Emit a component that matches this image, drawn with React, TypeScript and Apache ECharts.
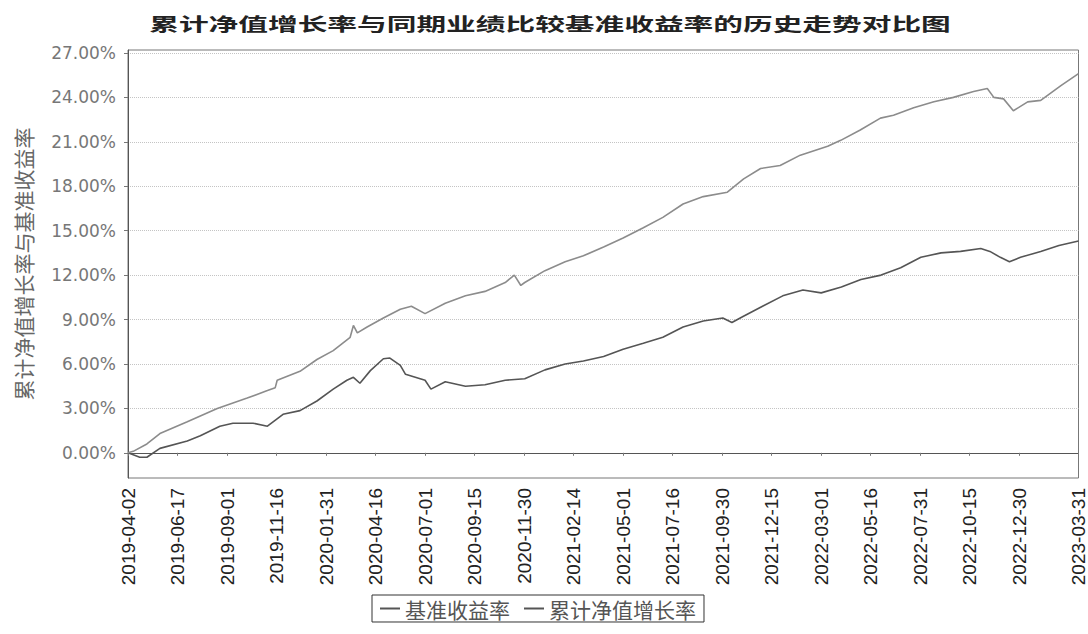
import { useEffect, useRef } from 'react';
import * as echarts from 'echarts';

const TITLE = '累计净值增长率与同期业绩比较基准收益率的历史走势对比图';
const Y_NAME = '累计净值增长率与基准收益率';
const BENCH_NAME = '基准收益率';
const FUND_NAME = '累计净值增长率';

const X_START = '2019-04-02';
const X_END = '2023-03-31';
const X_LABEL_DATES = [
  '2019-04-02', '2019-06-17', '2019-09-01', '2019-11-16', '2020-01-31',
  '2020-04-16', '2020-07-01', '2020-09-15', '2020-11-30', '2021-02-14',
  '2021-05-01', '2021-07-16', '2021-09-30', '2021-12-15', '2022-03-01',
  '2022-05-16', '2022-07-31', '2022-10-15', '2022-12-30', '2023-03-31',
];
const Y_TICKS = [0, 3, 6, 9, 12, 15, 18, 21, 24, 27];
const Y_MIN = -1.7;
const Y_MAX = 27.2;

// upper line
const fundDates = [
  '2019-04-02', '2019-04-10', '2019-05-01', '2019-05-21', '2019-07-02', '2019-08-17',
  '2019-10-02', '2019-11-02', '2019-11-14', '2019-11-17', '2019-12-22', '2020-01-17',
  '2020-02-11', '2020-03-08', '2020-03-13', '2020-03-19', '2020-04-03', '2020-04-28',
  '2020-05-24', '2020-06-10', '2020-07-01', '2020-08-01', '2020-09-01', '2020-10-01',
  '2020-11-01', '2020-11-15', '2020-11-25', '2020-12-01', '2021-01-01', '2021-02-01',
  '2021-03-01', '2021-04-01', '2021-05-01', '2021-06-01', '2021-07-01', '2021-08-01',
  '2021-09-01', '2021-10-08', '2021-11-02', '2021-11-28', '2021-12-28', '2022-01-28',
  '2022-03-11', '2022-03-31', '2022-04-30', '2022-05-31', '2022-06-20', '2022-07-21',
  '2022-08-21', '2022-09-20', '2022-10-21', '2022-11-11', '2022-11-21', '2022-12-06',
  '2022-12-21', '2023-01-12', '2023-02-01', '2023-03-04', '2023-03-31',
];
const fundValues = [
  0.0, 0.1, 0.6, 1.3, 2.1, 3.0,
  3.7, 4.2, 4.4, 4.9, 5.5, 6.3,
  6.9, 7.8, 8.6, 8.1, 8.5, 9.1,
  9.7, 9.9, 9.4, 10.1, 10.6, 10.9,
  11.5, 12.0, 11.3, 11.5, 12.3, 12.9,
  13.3, 13.9, 14.5, 15.2, 15.9, 16.8,
  17.3, 17.6, 18.5, 19.2, 19.4, 20.1,
  20.7, 21.1, 21.8, 22.6, 22.8, 23.3,
  23.7, 24.0, 24.4, 24.6, 24.0, 23.9,
  23.1, 23.7, 23.8, 24.8, 25.6,
];

// lower line
const benchDates = [
  '2019-04-02', '2019-04-20', '2019-05-01', '2019-05-21', '2019-07-02', '2019-07-22',
  '2019-08-21', '2019-09-10', '2019-10-11', '2019-11-02', '2019-11-26', '2019-12-22',
  '2020-01-17', '2020-02-11', '2020-03-03', '2020-03-13', '2020-03-23', '2020-04-08',
  '2020-04-28', '2020-05-08', '2020-05-24', '2020-06-01', '2020-07-01', '2020-07-10',
  '2020-08-01', '2020-09-01', '2020-10-01', '2020-11-01', '2020-12-01', '2021-01-01',
  '2021-02-01', '2021-03-01', '2021-04-01', '2021-05-01', '2021-06-01', '2021-07-01',
  '2021-08-01', '2021-09-01', '2021-10-01', '2021-10-15', '2021-11-01', '2021-12-01',
  '2022-01-01', '2022-02-01', '2022-03-01', '2022-04-01', '2022-05-01', '2022-06-01',
  '2022-07-01', '2022-08-01', '2022-09-01', '2022-10-01', '2022-11-01', '2022-11-15',
  '2022-12-01', '2022-12-15', '2023-01-01', '2023-02-01', '2023-03-01', '2023-03-31',
];
const benchValues = [
  0.0, -0.3, -0.3, 0.3, 0.8, 1.15,
  1.8, 2.0, 2.0, 1.8, 2.6, 2.85,
  3.5, 4.3, 4.9, 5.1, 4.7, 5.55,
  6.35, 6.4, 5.9, 5.3, 4.9, 4.3,
  4.8, 4.5, 4.6, 4.9, 5.0, 5.6,
  6.0, 6.2, 6.5, 7.0, 7.4, 7.8,
  8.5, 8.9, 9.1, 8.8, 9.2, 9.9,
  10.6, 11.0, 10.8, 11.2, 11.7, 12.0,
  12.5, 13.2, 13.5, 13.6, 13.8, 13.6,
  13.2, 12.9, 13.2, 13.6, 14.0, 14.3,
];

function toTs(s: string): number {
  const [y, m, d] = s.split('-').map(Number);
  return new Date(y, m - 1, d).getTime();
}
function fmtDate(v: number): string {
  const d = new Date(v);
  const p = (n: number) => (n < 10 ? '0' + n : '' + n);
  return d.getFullYear() + '-' + p(d.getMonth() + 1) + '-' + p(d.getDate());
}

export default function App() {
  const ref = useRef<HTMLDivElement>(null);
  useEffect(() => {
    if (!ref.current) return;
    const chart = echarts.init(ref.current, null, { renderer: 'svg' });
    const xTicks = X_LABEL_DATES.map(toTs);
    chart.setOption({
      animation: false,
      backgroundColor: '#ffffff',
      graphic: [
        {
          type: 'text',
          x: 550,
          y: 23,
          scaleX: 1.65,
          style: {
            text: TITLE,
            font: 'bold 18px "Noto Sans CJK SC"',
            fill: '#222',
            align: 'center',
            verticalAlign: 'middle',
          },
        },
      ],
      legend: {
        left: 372,
        top: 595,
        data: [BENCH_NAME, FUND_NAME],
        icon: 'rect',
        itemWidth: 20,
        itemHeight: 2,
        itemGap: 14,
        itemStyle: { color: '#555' },
        padding: [3, 8],
        borderColor: '#333',
        borderWidth: 1,
        textStyle: { fontSize: 21, color: '#555', fontFamily: '"Noto Sans CJK SC"' },
      },
      grid: {
        left: 128,
        right: 6,
        top: 50,
        bottom: 156,
        show: true,
        borderColor: '#777',
        borderWidth: 1,
        backgroundColor: '#fff',
      },
      xAxis: {
        type: 'value',
        min: toTs(X_START),
        max: toTs(X_END),
        axisLine: { show: true, lineStyle: { color: '#555', width: 1 } },
        axisTick: { show: true, customValues: xTicks, length: 3, lineStyle: { color: '#777' } },
        splitLine: { show: false },
        axisLabel: {
          customValues: xTicks,
          rotate: 90,
          margin: 10,
          hideOverlap: false,
          fontSize: 19,
          fontFamily: '"Liberation Sans"',
          color: '#222',
          formatter: (v: number) => fmtDate(v),
        },
      },
      yAxis: {
        type: 'value',
        min: Y_MIN,
        max: Y_MAX,
        name: Y_NAME,
        nameLocation: 'middle',
        nameRotate: 90,
        nameGap: 95,
        nameTextStyle: { fontSize: 21, color: '#666', fontFamily: '"Noto Sans CJK SC"' },
        axisLine: { show: true, lineStyle: { color: '#555', width: 1 } },
        axisTick: { show: true, customValues: Y_TICKS, length: 4, lineStyle: { color: '#777' } },
        splitLine: { show: true, lineStyle: { color: '#c4c4c4', type: 'dotted', width: 1 } },
        axisLabel: {
          customValues: Y_TICKS,
          margin: 12,
          fontSize: 17,
          fontFamily: '"DejaVu Sans"',
          color: '#777',
          formatter: (v: number) => v.toFixed(2) + '%',
        },
      },
      series: [
        {
          name: BENCH_NAME,
          type: 'line',
          showSymbol: false,
          data: benchDates.map((d, i) => [toTs(d), benchValues[i]]),
          lineStyle: { color: '#555', width: 1.6 },
          itemStyle: { color: '#555' },
        },
        {
          name: FUND_NAME,
          type: 'line',
          showSymbol: false,
          data: fundDates.map((d, i) => [toTs(d), fundValues[i]]),
          lineStyle: { color: '#8c8c8c', width: 1.6 },
          itemStyle: { color: '#8c8c8c' },
        },
      ],
    });
    return () => chart.dispose();
  }, []);
  return (
    <div
      ref={ref}
      style={{ position: 'fixed', left: 0, top: 0, width: 1088, height: 634 }}
    />
  );
}
